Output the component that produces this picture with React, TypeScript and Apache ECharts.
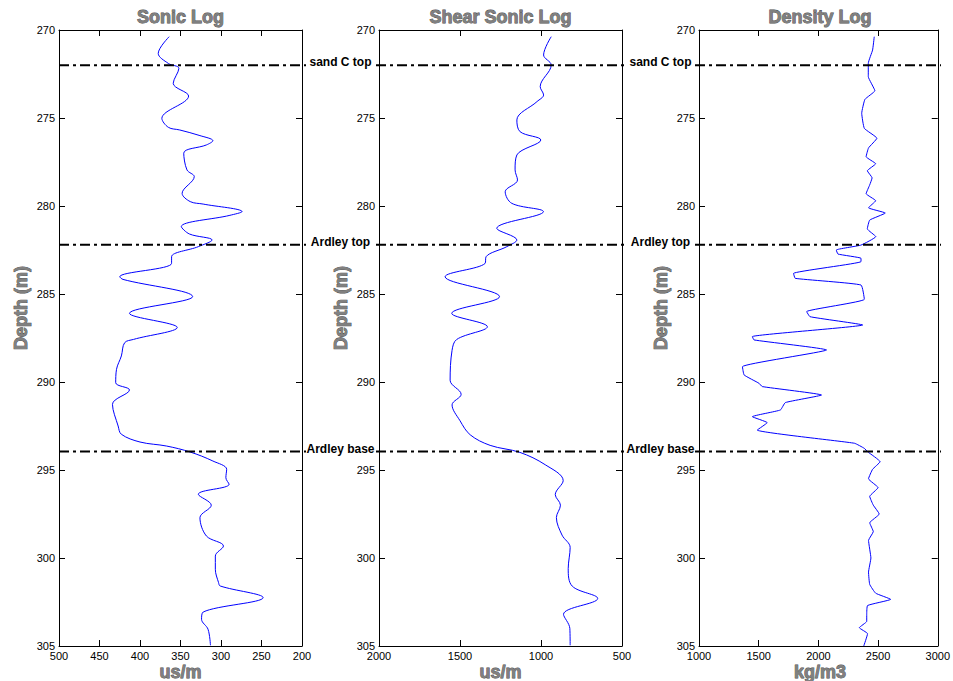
import React, { useEffect, useRef } from 'react';
import * as echarts from 'echarts';

// ---- data (depth in m, value in log units) ----
const sonicDepth = [270.38, 271.33, 271.9, 272.18, 273.03, 273.75, 275.02, 275.53, 275.68, 276.0, 276.29, 276.53, 277.0, 277.95, 278.33, 279.28, 279.75, 279.89, 280.32, 280.53, 281.17, 281.59, 281.93, 282.31, 282.88, 283.26, 284.02, 284.17, 285.15, 286.1, 286.9, 287.58, 287.77, 288.52, 289.28, 290.04, 290.45, 291.27, 292.5, 292.97, 293.41, 293.64, 293.98, 294.49, 294.96, 295.44, 295.81, 296.38, 297.0, 297.71, 298.75, 299.32, 299.89, 300.64, 301.4, 301.59, 302.25, 303.07, 303.48, 304.05, 304.96];
const sonicValue = [364, 377.5, 365, 352, 359, 340, 373, 365, 351, 326, 310, 318, 346, 342, 333, 348, 338, 322, 274, 289, 349, 339, 311, 328, 361, 361, 425, 421, 335, 413, 354, 408, 419, 423, 429, 430, 413, 434, 427, 423, 400, 367, 338, 310, 293, 294, 290, 328, 312, 326, 318, 297, 307, 307, 303, 301, 248, 322, 324, 316, 313];

const shearDepth = [270.38, 271.42, 271.99, 273.22, 273.69, 274.07, 275.11, 275.78, 276.25, 277.1, 277.95, 278.52, 279.19, 279.85, 280.32, 281.27, 281.93, 282.31, 282.88, 283.26, 284.02, 285.15, 286.1, 286.86, 287.58, 288.2, 289.9, 290.7, 291.3, 292.2, 293.0, 293.6, 294.0, 294.7, 295.6, 296.4, 297.0, 297.7, 298.7, 299.4, 300.6, 301.6, 302.3, 303.2, 304.0, 304.96];
const shearValue = [937, 984, 937, 1005, 984, 1025, 1149, 1129, 1001, 1149, 1160, 1145, 1221, 1180, 985, 1273, 1149, 1211, 1339, 1345, 1592, 1256, 1551, 1331, 1520, 1549, 1561, 1493, 1549, 1500, 1437, 1314, 1130, 974, 863, 912, 880, 905, 870, 820, 832, 807, 650, 861, 822, 820];

const densityDepth = [270.38, 271.14, 271.89, 272.65, 273.45, 273.94, 274.73, 275.59, 276.15, 276.7, 277.2, 277.6, 278.0, 278.4, 278.8, 279.3, 279.7, 280.1, 280.4, 280.8, 281.3, 281.74, 282.22, 282.5, 282.73, 282.97, 283.16, 283.83, 284.11, 284.49, 285.3, 286.0, 286.29, 286.76, 287.42, 287.61, 288.18, 289.13, 289.6, 290.07, 290.26, 290.74, 291.17, 291.59, 291.97, 292.31, 292.73, 293.48, 293.77, 293.96, 294.53, 294.96, 295.5, 296.0, 296.5, 297.0, 297.5, 298.0, 298.5, 299.0, 300.0, 300.8, 301.5, 302.0, 302.35, 302.7, 303.2, 303.6, 303.96, 304.3, 305.0];
const densityValue = [2468, 2454, 2418, 2418, 2473, 2390, 2363, 2385, 2490, 2420, 2400, 2480, 2410, 2450, 2430, 2400, 2480, 2420, 2560, 2430, 2410, 2481, 2357, 2150, 2164, 2357, 2357, 1792, 1806, 2357, 2385, 1902, 1930, 2371, 1447, 1461, 2068, 1364, 1378, 1502, 1530, 2026, 1723, 1682, 1447, 1571, 1488, 2302, 2385, 2412, 2517, 2454, 2420, 2500, 2430, 2460, 2510, 2430, 2460, 2420, 2440, 2420, 2430, 2480, 2605, 2412, 2405, 2405, 2343, 2412, 2380];

const markerDepths = [272, 282.2, 293.95];
const markerNames = ['sand C top', 'Ardley top', 'Ardley base'];

const panelTitles = ['Sonic Log', 'Shear Sonic Log', 'Density Log'];
const unitNames = ['us/m', 'us/m', 'kg/m3'];
const xMins = [200, 500, 1000];
const xMaxs = [500, 2000, 3000];
const xIntervals = [50, 500, 500];
const xInverse = [true, true, false];
const depthMin = 270;
const depthMax = 305;
const depthInterval = 5;

// ---- layout ----
const W = 953;
const H = 681;
const gridLefts = [59, 379, 699];
const gridWidths = [243, 243, 242];
const gridTop = 30;
const gridHeight = 616;
const FONT = '"Liberation Sans", Arial, Helvetica, sans-serif';

export default function App() {
  const ref = useRef<HTMLDivElement>(null);

  useEffect(() => {
    document.body.style.margin = '0';
    const chart = echarts.init(ref.current!, null, { renderer: 'svg' });

    const logs = [
      { d: sonicDepth, v: sonicValue, smooth: 0.35 },
      { d: shearDepth, v: shearValue, smooth: 0.35 },
      { d: densityDepth, v: densityValue, smooth: 0.12 },
    ];

    const grids: any[] = [];
    const xAxes: any[] = [];
    const yAxes: any[] = [];
    const series: any[] = [];

    const axisLine = { show: true, onZero: false, lineStyle: { color: '#000', width: 1 } };
    const axisTick = { show: true, inside: true, length: 6, lineStyle: { color: '#000', width: 1 } };
    const plain = (v: number) => String(v);

    for (let i = 0; i < 3; i++) {
      grids.push({ left: gridLefts[i], width: gridWidths[i], top: gridTop, height: gridHeight, containLabel: false });
      const xBase = {
        type: 'value', gridIndex: i, min: xMins[i], max: xMaxs[i], interval: xIntervals[i], inverse: xInverse[i],
        axisLine, axisTick, splitLine: { show: false },
      };
      xAxes.push({
        ...xBase, position: 'bottom',
        axisLabel: {
          show: true, color: '#000', fontSize: 11, lineHeight: 10, fontFamily: FONT, margin: 5,
          showMinLabel: true, showMaxLabel: true, hideOverlap: false, formatter: plain,
        },
      });
      xAxes.push({ ...xBase, position: 'top', axisLabel: { show: false } });
      const yBase = {
        type: 'value', gridIndex: i, min: depthMin, max: depthMax, interval: depthInterval, inverse: true,
        axisLine, axisTick, splitLine: { show: false },
      };
      yAxes.push({
        ...yBase, position: 'left',
        axisLabel: {
          show: true, color: '#000', fontSize: 11, lineHeight: 10, fontFamily: FONT, margin: 4,
          showMinLabel: true, showMaxLabel: true, formatter: plain,
        },
      });
      yAxes.push({ ...yBase, position: 'right', axisLabel: { show: false } });

      const L = logs[i];
      series.push({
        type: 'line',
        xAxisIndex: 2 * i,
        yAxisIndex: 2 * i,
        data: L.v.map((v, k) => [v, L.d[k]]),
        showSymbol: false,
        symbol: 'none',
        smooth: L.smooth,
        lineStyle: { color: '#0000ff', width: 1 },
        silent: true,
      });
    }

    chart.setOption({
      animation: false,
      backgroundColor: '#fff',
      grid: grids,
      xAxis: xAxes,
      yAxis: yAxes,
      series,
    });

    // Graphic: titles, axis names, marker lines and labels
    const graphics: any[] = [];
    const grayText = (text: string, x: number, y: number, rotation = 0) => ({
      type: 'text',
      x, y, rotation,
      style: {
        text, fill: '#808080', stroke: '#4a4a4a', lineWidth: 0.8,
        font: `bold 18px ${FONT}`, lineHeight: 16, align: 'center', verticalAlign: 'middle',
      },
      silent: true,
      z: 10,
    });

    for (let i = 0; i < 3; i++) {
      const cx = gridLefts[i] + gridWidths[i] / 2;
      graphics.push(grayText(panelTitles[i], cx, 17));
      graphics.push(grayText(unitNames[i], cx, 672));
      graphics.push(grayText('Depth (m)', gridLefts[i] - 38, 308, Math.PI / 2));
    }

    const ext = [[0, 4], [-3, 4], [-4, 0]];
    for (let m = 0; m < markerDepths.length; m++) {
      const py = chart.convertToPixel({ yAxisIndex: 0 }, markerDepths[m]) as number;
      for (let i = 0; i < 3; i++) {
        graphics.push({
          type: 'line',
          shape: { x1: gridLefts[i] + ext[i][0], y1: py, x2: gridLefts[i] + gridWidths[i] + ext[i][1], y2: py },
          style: { stroke: '#000', lineWidth: 2, lineDash: [10, 4, 3, 4] },
          silent: true,
          z: 5,
        });
      }
      for (let g = 0; g < 2; g++) {
        const gx = (gridLefts[g] + gridWidths[g] + gridLefts[g + 1]) / 2;
        graphics.push({
          type: 'text',
          x: gx, y: py - 3,
          style: {
            text: markerNames[m], fill: '#000', font: `bold 12px ${FONT}`,
            align: 'center', verticalAlign: 'middle',
          },
          silent: true,
          z: 10,
        });
      }
    }

    chart.setOption({ graphic: graphics });

    return () => chart.dispose();
  }, []);

  return (
    <div style={{ position: 'absolute', left: 0, top: 0, width: W, height: H, background: '#fff' }}>
      <div ref={ref} style={{ width: W, height: H }} />
    </div>
  );
}
